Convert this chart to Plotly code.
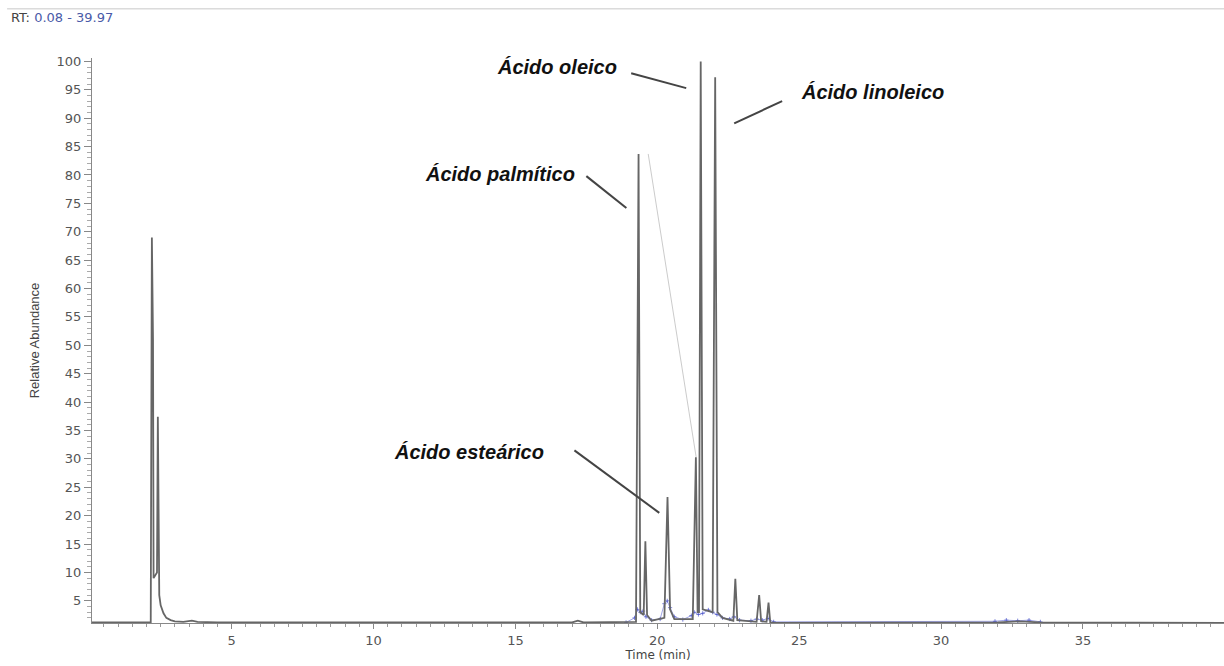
import plotly.graph_objects as go

# ---- data ----
time_min = [0.08, 2.15, 2.19, 2.21, 2.23, 2.25, 2.37, 2.40, 2.42, 2.45, 2.50, 2.60, 2.70, 2.85, 3.00,
            3.30, 3.60, 3.80, 4.50, 17.0, 17.2, 17.4, 19.25, 19.34, 19.40, 19.52, 19.58, 19.64,
            19.80, 20.25, 20.36, 20.45, 20.60, 21.25, 21.36, 21.42, 21.47, 21.53, 21.60, 21.95,
            22.04, 22.12, 22.30, 22.68, 22.75, 22.82, 23.50, 23.59, 23.66, 23.85, 23.92, 23.98,
            24.20, 32.0, 32.8, 33.5, 39.97]
abundance = [1.2, 1.2, 69.0, 62.0, 51.0, 9.0, 10.0, 37.4, 12.0, 6.0, 4.2, 2.8, 2.0, 1.6, 1.4,
             1.3, 1.5, 1.3, 1.2, 1.2, 1.5, 1.2, 1.3, 83.7, 3.0, 2.5, 15.5, 2.5,
             1.5, 2.0, 23.3, 3.5, 1.8, 1.8, 30.3, 3.0, 3.0, 100.0, 3.5, 3.0,
             97.2, 3.0, 2.0, 1.5, 8.9, 1.6, 1.3, 6.0, 1.4, 1.3, 4.7, 1.2,
             1.1, 1.2, 1.4, 1.2, 1.1]

# secondary (blue) trace near the peak bases
blue_time = [18.9, 19.2, 19.3, 19.4, 19.5, 19.6, 19.8, 20.1, 20.25, 20.35, 20.45, 20.6, 20.9,
             21.2, 21.3, 21.45, 21.6, 21.8, 21.95, 22.1, 22.3, 22.55, 22.7, 22.9, 23.3,
             23.5, 23.7, 23.9, 24.1, 31.9, 32.3, 32.7, 33.1, 33.5]
blue_abund = [1.2, 2.0, 3.5, 3.0, 3.2, 2.2, 1.6, 1.8, 4.5, 5.0, 3.8, 2.2, 1.7,
              2.4, 3.0, 2.6, 2.8, 3.4, 3.0, 2.6, 2.0, 1.8, 2.2, 1.6, 1.5,
              1.8, 1.6, 1.9, 1.3, 1.4, 1.6, 1.5, 1.6, 1.3]

# faint overlay line (artifact in original)
overlay_time = [19.68, 21.37]
overlay_abund = [83.7, 30.3]

# labels
label_text = ["Ácido oleico", "Ácido linoleico", "Ácido palmítico", "Ácido esteárico"]
label_x = [16.46, 27.6, 14.45, 13.35]
label_y = [99.1, 94.7, 80.2, 31.3]
# leader lines (start x, start y, end x, end y)
leader_x0 = [19.08, 22.71, 17.50, 17.08]
leader_y0 = [97.9, 89.1, 79.8, 31.5]
leader_x1 = [21.02, 24.40, 18.91, 20.07]
leader_y1 = [95.3, 93.0, 74.2, 20.5]

x_ticks = [5, 10, 15, 20, 25, 30, 35]
y_ticks = list(range(5, 101, 5))

TICK_FONT = "DejaVu Sans, Verdana, sans-serif"

fig = go.Figure()
fig.add_trace(go.Scatter(x=overlay_time, y=overlay_abund, mode="lines",
                         line=dict(color="rgba(190,190,190,0.8)", width=1), hoverinfo="skip"))
fig.add_trace(go.Scatter(x=blue_time, y=blue_abund, mode="lines+markers",
                         line=dict(color="rgba(80,90,210,0.55)", width=1),
                         marker=dict(color="rgba(70,80,200,0.7)", size=3, symbol="cross-thin",
                                     line=dict(color="rgba(70,80,200,0.7)", width=1))))
fig.add_trace(go.Scatter(x=time_min, y=abundance, mode="lines",
                         line=dict(color="#666", width=1.8)))

for t, x, y in zip(label_text, label_x, label_y):
    fig.add_annotation(x=x, y=y, xref="x", yref="y", text=t, showarrow=False,
                       font=dict(family="Liberation Sans, Arial, sans-serif", size=20,
                                 color="#111", weight="bold", style="italic"))
for x0, y0, x1, y1 in zip(leader_x0, leader_y0, leader_x1, leader_y1):
    fig.add_shape(type="line", xref="x", yref="y", x0=x0, y0=y0, x1=x1, y1=y1,
                  line=dict(color="#444", width=2))

# header
fig.add_annotation(xref="paper", yref="paper", x=-0.0735, y=1.071, xanchor="left", yanchor="middle",
                   showarrow=False,
                   text="RT: <span style='color:#4a5aa8'>0.08 - 39.97</span>",
                   font=dict(family=TICK_FONT, size=13, color="#444"))
fig.add_shape(type="line", xref="paper", yref="paper", x0=-0.075, x1=1.0, y0=1.087, y1=1.087,
              line=dict(color="#c8c8c8", width=1))

fig.update_layout(
    width=1224, height=666,
    margin=dict(l=92, r=0, t=58, b=43),
    paper_bgcolor="white", plot_bgcolor="white",
    showlegend=False,
    font=dict(family=TICK_FONT, size=12, color="#555"),
    xaxis=dict(range=[0.08, 39.97], tickvals=x_ticks, ticktext=[str(v) for v in x_ticks],
               showgrid=False, zeroline=False, showline=True, linecolor="#888", linewidth=1,
               ticks="outside", ticklen=5, tickcolor="#888",
               minor=dict(dtick=0.5, ticks="outside", ticklen=3, tickcolor="#999"),
               title=dict(text="Time (min)", standoff=0, font=dict(size=12, color="#444")),
               tickfont=dict(size=13, color="#555")),
    yaxis=dict(range=[1.1, 100.6], tickvals=y_ticks, ticktext=[str(v) for v in y_ticks],
               showgrid=False, zeroline=False, showline=True, linecolor="#888", linewidth=1,
               ticks="outside", ticklen=7, tickcolor="#888",
               minor=dict(dtick=1, ticks="outside", ticklen=4, tickcolor="#aaa"),
               title=dict(text="Relative Abundance", standoff=14,
                          font=dict(family="Liberation Sans Narrow, Arial Narrow, Liberation Sans, sans-serif",
                                    size=13, color="#444")),
               tickfont=dict(size=13, color="#555")),
)

fig.write_html("out.html")
